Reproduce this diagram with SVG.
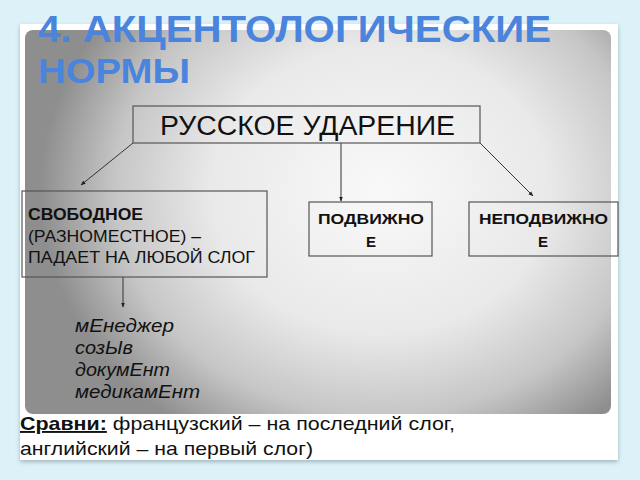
<svg xmlns="http://www.w3.org/2000/svg" width="640" height="480" viewBox="0 0 640 480">
<defs>
<radialGradient id="bg" cx="380" cy="190" r="340" gradientUnits="userSpaceOnUse" gradientTransform="translate(380 190) scale(1 0.85) translate(-380 -190)">
<stop offset="0" stop-color="#f9f9f9"/>
<stop offset="0.5" stop-color="#e9e9e9"/>
<stop offset="0.78" stop-color="#c6c6c6"/>
<stop offset="1" stop-color="#8e8e8e"/>
</radialGradient>
<filter id="sh" x="-5%" y="-5%" width="110%" height="115%">
<feDropShadow dx="0" dy="2" stdDeviation="2" flood-color="#7a8c92" flood-opacity="0.6"/>
</filter>
<marker id="ar" viewBox="0 0 10 10" refX="9" refY="5" markerWidth="5" markerHeight="5" orient="auto">
<path d="M0,1 L10,5 L0,9 z" fill="#222"/>
</marker>
<style>
.box{fill:none;stroke:#555;stroke-width:1.2}
.t{font-family:"Liberation Sans",Arial,sans-serif;fill:#111}
.h{font-family:"Liberation Sans",Arial,sans-serif;font-weight:bold;fill:#4a84dc}
.b{font-weight:bold}
.i{font-style:italic}
.c{stroke:#333;stroke-width:1;fill:none;marker-end:url(#ar)}
</style>
</defs>
<rect width="640" height="480" fill="#dcf2f8"/>
<rect x="20" y="24" width="598" height="436" fill="#fff" filter="url(#sh)"/>
<rect x="25" y="30" width="586" height="384" rx="8" fill="url(#bg)"/>
<text class="h" x="38" y="42" font-size="36" textLength="513" lengthAdjust="spacingAndGlyphs">4. АКЦЕНТОЛОГИЧЕСКИЕ</text>
<text class="h" x="38" y="83" font-size="35" textLength="152" lengthAdjust="spacingAndGlyphs">НОРМЫ</text>
<g id="connectors">
<line class="c" x1="133" y1="143" x2="81" y2="185"/>
<line class="c" x1="341" y1="143" x2="341" y2="201"/>
<line class="c" x1="480" y1="143" x2="533" y2="196"/>
<line class="c" x1="123" y1="277" x2="123" y2="307"/>
</g>
<g id="root">
<rect class="box" x="133" y="106" width="347" height="37"/>
<text class="t" x="160" y="135" font-size="27" textLength="295" lengthAdjust="spacingAndGlyphs">РУССКОЕ УДАРЕНИЕ</text>
</g>
<g id="free">
<rect class="box" x="22" y="191" width="245" height="86"/>
<text class="t b" x="28" y="220" font-size="16" textLength="115" lengthAdjust="spacingAndGlyphs">СВОБОДНОЕ</text>
<text class="t" x="28" y="242" font-size="16" textLength="173" lengthAdjust="spacingAndGlyphs">(РАЗНОМЕСТНОЕ) –</text>
<text class="t" x="28" y="263" font-size="16" textLength="227" lengthAdjust="spacingAndGlyphs">ПАДАЕТ НА ЛЮБОЙ СЛОГ</text>
</g>
<g id="mobile">
<rect class="box" x="309" y="202" width="123" height="54"/>
<text class="t b" x="318" y="224" font-size="15" textLength="106" lengthAdjust="spacingAndGlyphs">ПОДВИЖНО</text>
<text class="t b" x="371" y="247" font-size="15" text-anchor="middle">Е</text>
</g>
<g id="fixed">
<rect class="box" x="469" y="202" width="149" height="54"/>
<text class="t b" x="479" y="224" font-size="15" textLength="129" lengthAdjust="spacingAndGlyphs">НЕПОДВИЖНО</text>
<text class="t b" x="543" y="247" font-size="15" text-anchor="middle">Е</text>
</g>
<g id="examples">
<text class="t i" x="75" y="332" font-size="18" textLength="99" lengthAdjust="spacingAndGlyphs">мЕнеджер</text>
<text class="t i" x="75" y="354" font-size="18" textLength="58" lengthAdjust="spacingAndGlyphs">созЫв</text>
<text class="t i" x="75" y="376" font-size="18" textLength="95" lengthAdjust="spacingAndGlyphs">докумЕнт</text>
<text class="t i" x="75" y="398" font-size="18" textLength="125" lengthAdjust="spacingAndGlyphs">медикамЕнт</text>
</g>
<g id="compare">
<text class="t" x="20" y="430" font-size="19" textLength="435" lengthAdjust="spacingAndGlyphs"><tspan font-weight="bold" text-decoration="underline">Сравни:</tspan> французский – на последний слог,</text>
<text class="t" x="20" y="455" font-size="19" textLength="293" lengthAdjust="spacingAndGlyphs">английский – на первый слог)</text>
</g>
</svg>
